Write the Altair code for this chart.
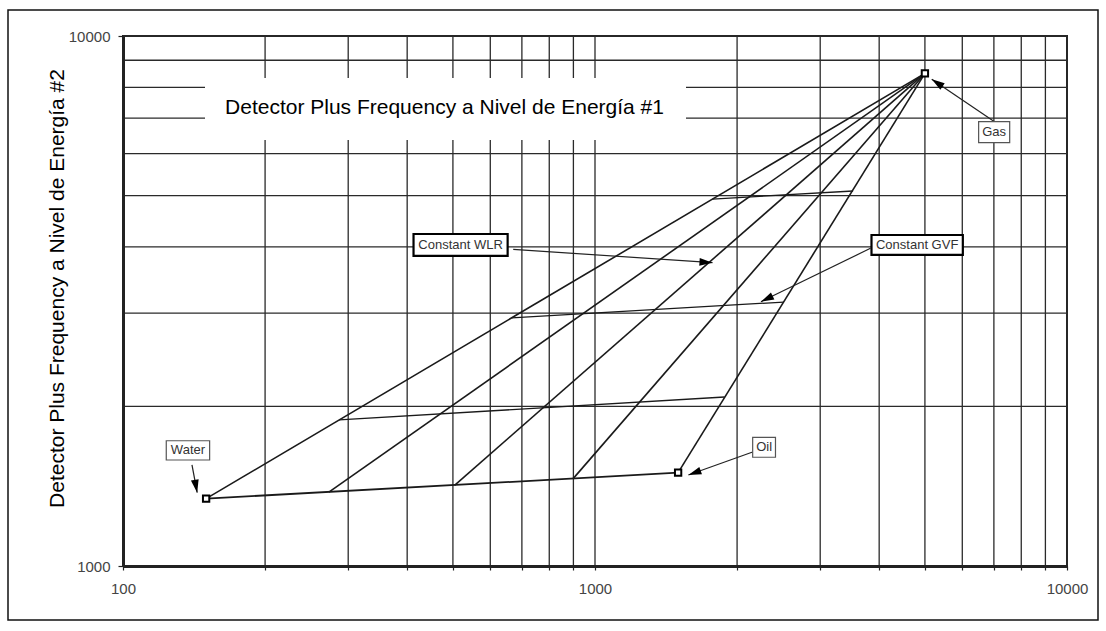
import altair as alt
import pandas as pd
import numpy as np

# ---- data ----
# end members: (Detector Plus Frequency @ energy #1, @ energy #2)
end_names = ["Water", "Oil", "Gas"]
end_x = [150, 1500, 5000]
end_y = [1340, 1500, 8500]

# constant WLR lines: start on the Water-Oil edge and converge on Gas
wlr_x = [150, 273, 504, 898, 1500]
wlr_y = [1340, 1378, 1420, 1460, 1500]

# constant GVF lines: from the Water-Gas edge to the Oil-Gas edge
gvf_x0 = [287, 666, 1774]
gvf_y0 = [1886, 2938, 4925]
gvf_x1 = [1881, 2512, 3522]
gvf_y1 = [2084, 3148, 5100]

# grid / tick values
x_grid = [100, 200, 300, 400, 500, 600, 700, 800, 900,
          1000, 2000, 3000, 4000, 5000, 6000, 7000, 8000, 9000, 10000]
y_grid = [1000, 2000, 3000, 4000, 5000, 6000, 7000, 8000, 9000, 10000]
x_labels = [100, 1000, 10000]
y_labels = [1000, 10000]

# annotation callouts (data coordinates)
ann_text = ["Water", "Oil", "Gas", "Constant WLR", "Constant GVF"]
ann_kind = ["point", "point", "point", "family", "family"]
ann_bx0 = [123.5, 2158, 6498, 412.6, 3853]
ann_bx1 = [152.6, 2412, 7561, 653, 6016]
ann_by0 = [1585, 1604, 6291, 3846, 3863]
ann_by1 = [1723, 1749, 6892, 4231, 4212]
arr_x0 = [140, 2158, 7035, 671, 3834]
arr_y0 = [1551, 1641, 6882, 3958, 3976]
arr_x1 = [143.6, 1577, 5169, 1774, 2247]
arr_y1 = [1375, 1485, 8285, 3735, 3153]

x_title = "Detector Plus Frequency a Nivel de Energía #1"
y_title = "Detector Plus Frequency a Nivel de Energía #2"

# ---- layout ----
W, H = 944, 530
PAD_L, PAD_T = 123, 36
FONT = "Liberation Sans"

xs = alt.Scale(type="log", domain=[100, 10000], nice=False)
ys = alt.Scale(type="log", domain=[1000, 10000], nice=False)

# ---- tables ----
ends = pd.DataFrame({"name": end_names, "x": end_x, "y": end_y})
wlr = pd.DataFrame({"x": wlr_x, "y": wlr_y,
                    "gx": [end_x[2]] * len(wlr_x), "gy": [end_y[2]] * len(wlr_x)})
base_edge = pd.DataFrame({"x": [end_x[0]], "y": [end_y[0]], "x2": [end_x[1]], "y2": [end_y[1]]})
gvf = pd.DataFrame({"x": gvf_x0, "y": gvf_y0, "x2": gvf_x1, "y2": gvf_y1})

ann = pd.DataFrame({"text": ann_text, "kind": ann_kind,
                    "bx0": ann_bx0, "bx1": ann_bx1, "by0": ann_by0, "by1": ann_by1,
                    "ax0": arr_x0, "ay0": arr_y0, "ax1": arr_x1, "ay1": arr_y1})
ann["tx"] = np.sqrt(ann["bx0"] * ann["bx1"])
ann["ty"] = np.sqrt(ann["by0"] * ann["by1"])
pdx = (W / 2) * (np.log10(ann["ax1"]) - np.log10(ann["ax0"]))
pdy = -H * (np.log10(ann["ay1"]) - np.log10(ann["ay0"]))
ann["angle"] = np.mod(np.degrees(np.arctan2(pdx, -pdy)), 360)

one = pd.DataFrame({"a": [0]})

# ---- layers ----
vgrid = alt.Chart(pd.DataFrame({"v": x_grid})).mark_rule(color="#2a2a2a", strokeWidth=1.3).encode(
    x=alt.X("v:Q", scale=xs, axis=alt.Axis(
        values=x_grid, format="d",
        labelExpr="(datum.value == 100 || datum.value == 1000 || datum.value == 10000) ? datum.label : ''",
        grid=False, tickSize=4, tickColor="#222", tickWidth=1.2,
        domainColor="#222", domainWidth=3, zindex=1,
        labelFont=FONT, labelFontSize=15, labelColor="#444", labelPadding=11,
        labelFlush=False, labelOverlap=False,
        title=x_title, titleFont=FONT, titleFontSize=21, titleFontWeight="normal",
        titleColor="#000", titleX=321, titleY=-453, titleBaseline="alphabetic",
        titleAlign="center", titleAnchor="start")),
)
hgrid = alt.Chart(pd.DataFrame({"v": y_grid})).mark_rule(color="#2a2a2a", strokeWidth=1.3).encode(
    y=alt.Y("v:Q", scale=ys, axis=alt.Axis(
        values=y_labels, format="d", grid=False, tickSize=5, tickColor="#222", tickWidth=1.2,
        domainColor="#222", domainWidth=3, zindex=1,
        labelFont=FONT, labelFontSize=15, labelColor="#444", labelPadding=8,
        labelFlush=False, labelOverlap=False,
        title=y_title, titleFont=FONT, titleFontSize=21, titleFontWeight="normal",
        titleColor="#000", titleAngle=270, titleX=-60, titleY=252,
        titleBaseline="alphabetic", titleAlign="center", titleAnchor="start")),
)

# white box carrying the x-axis title inside the plot
title_box = alt.Chart(one).mark_rect(fill="white").encode(
    x=alt.value(82), x2=alt.value(563), y=alt.value(42), y2=alt.value(104))

# outer frame of the whole figure
frame = alt.Chart(one).mark_rect(fill=None, stroke="#111", strokeWidth=1.5).encode(
    x=alt.value(8 - PAD_L), x2=alt.value(1098 - PAD_L),
    y=alt.value(10 - PAD_T), y2=alt.value(620 - PAD_T))

wlr_lines = alt.Chart(wlr).mark_rule(color="#1a1a1a", strokeWidth=1.6).encode(
    x=alt.X("x:Q", scale=xs), y=alt.Y("y:Q", scale=ys), x2="gx:Q", y2="gy:Q")
base_line = alt.Chart(base_edge).mark_rule(color="#1a1a1a", strokeWidth=1.8).encode(
    x=alt.X("x:Q", scale=xs), y=alt.Y("y:Q", scale=ys), x2="x2:Q", y2="y2:Q")
gvf_lines = alt.Chart(gvf).mark_rule(color="#1a1a1a", strokeWidth=1.3).encode(
    x=alt.X("x:Q", scale=xs), y=alt.Y("y:Q", scale=ys), x2="x2:Q", y2="y2:Q")

markers = alt.Chart(ends).mark_point(shape="square", filled=True, fill="white",
                                     stroke="#000", strokeWidth=2, size=40, opacity=1).encode(
    x=alt.X("x:Q", scale=xs), y=alt.Y("y:Q", scale=ys))

arrow_lines = alt.Chart(ann).mark_rule(color="#222", strokeWidth=1.2).encode(
    x=alt.X("ax0:Q", scale=xs), y=alt.Y("ay0:Q", scale=ys), x2="ax1:Q", y2="ay1:Q")
arrow_heads = alt.Chart(ann).mark_point(shape="M0,0 L0.6,2 L-0.6,2 Z", filled=True,
                                        color="#000", size=170, opacity=1).encode(
    x=alt.X("ax1:Q", scale=xs), y=alt.Y("ay1:Q", scale=ys),
    angle=alt.Angle("angle:Q", scale=None))

boxes = alt.Chart(ann).mark_rect(fill="white").encode(
    x=alt.X("bx0:Q", scale=xs), x2="bx1:Q", y=alt.Y("by0:Q", scale=ys), y2="by1:Q",
    stroke=alt.condition("datum.kind == 'family'", alt.value("#000"), alt.value("#555")),
    strokeWidth=alt.condition("datum.kind == 'family'", alt.value(2.2), alt.value(1.2)))
box_text = alt.Chart(ann).mark_text(font=FONT, fontSize=13, color="#333",
                                    align="center", baseline="middle").encode(
    x=alt.X("tx:Q", scale=xs), y=alt.Y("ty:Q", scale=ys), text="text:N")

chart = alt.layer(
    vgrid, hgrid, title_box, wlr_lines, base_line, gvf_lines,
    arrow_lines, arrow_heads, boxes, box_text, markers, frame
).properties(
    width=W, height=H,
    autosize=alt.AutoSizeParams(type="none"),
    padding={"left": PAD_L, "top": PAD_T, "right": 1106 - PAD_L - W, "bottom": 631 - PAD_T - H},
    background="white",
).configure_view(stroke="#222", strokeWidth=2)

chart.save("out.html", embed_options={"renderer": "svg", "actions": False})
